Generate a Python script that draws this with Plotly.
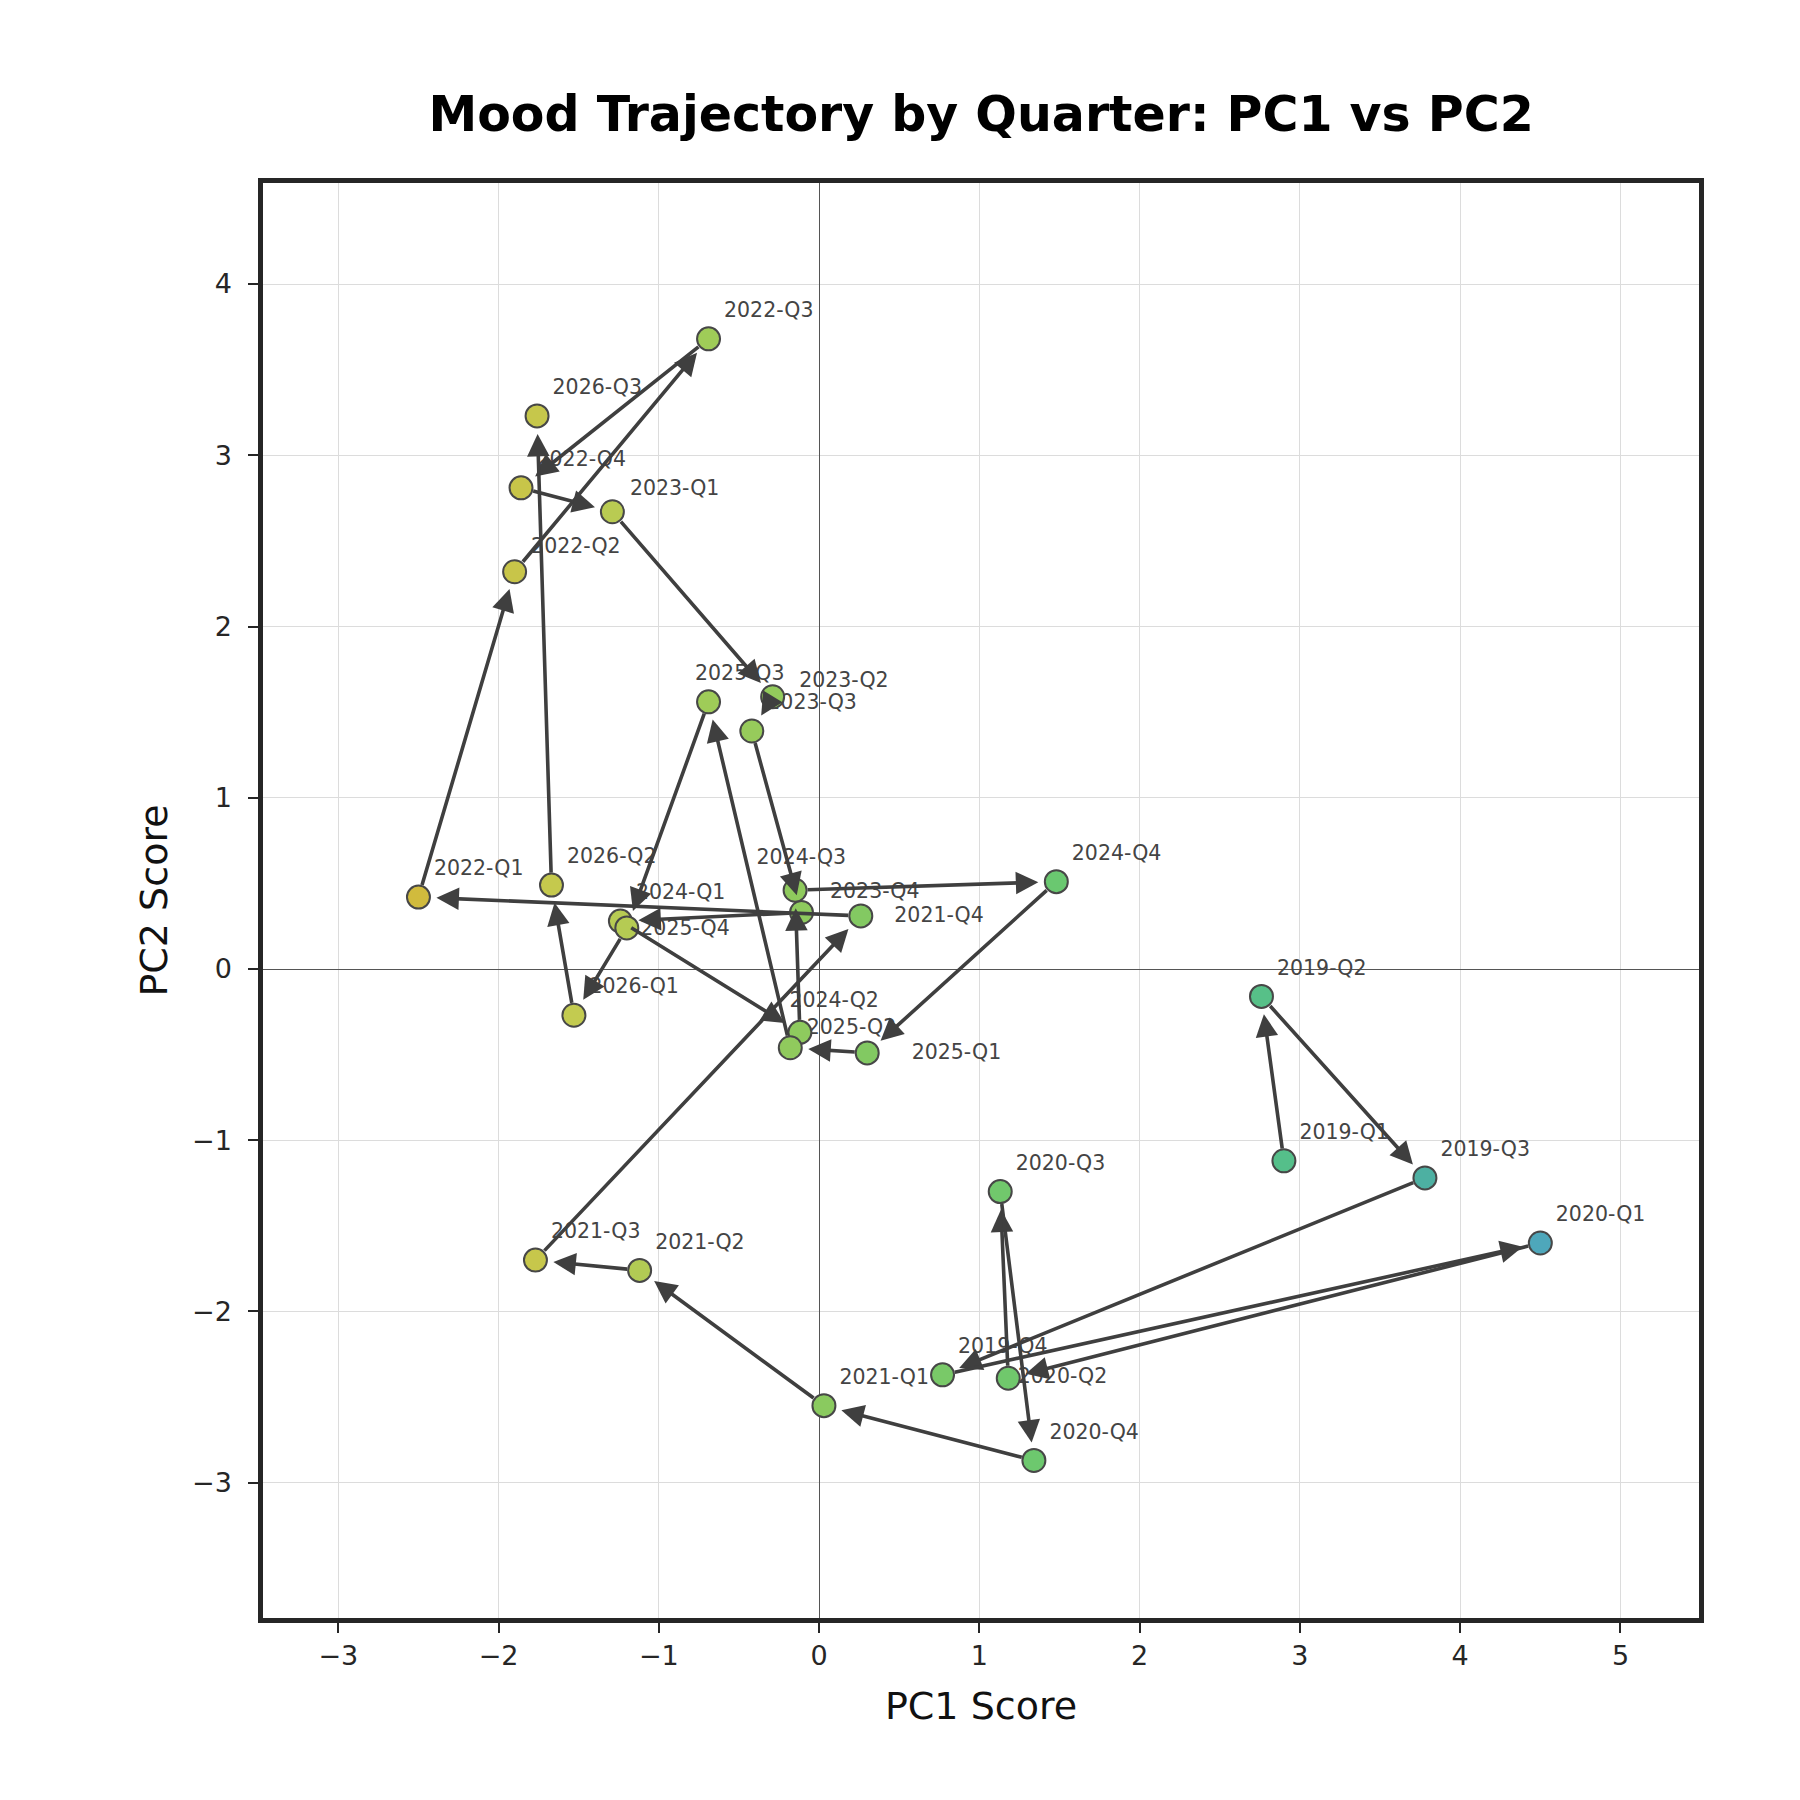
import plotly.graph_objects as go

# quarter labels and PCA scores
quarters = ['2019-Q1', '2019-Q2', '2019-Q3', '2019-Q4',
            '2020-Q1', '2020-Q2', '2020-Q3', '2020-Q4',
            '2021-Q1', '2021-Q2', '2021-Q3', '2021-Q4',
            '2022-Q1', '2022-Q2', '2022-Q3', '2022-Q4',
            '2023-Q1', '2023-Q2', '2023-Q3', '2023-Q4',
            '2024-Q1', '2024-Q2', '2024-Q3', '2024-Q4',
            '2025-Q1', '2025-Q2', '2025-Q3', '2025-Q4',
            '2026-Q1', '2026-Q2', '2026-Q3']
pc1 = [2.90, 2.76, 3.78, 0.77,
       4.50, 1.18, 1.13, 1.34,
       0.03, -1.12, -1.77, 0.26,
       -2.50, -1.90, -0.69, -1.86,
       -1.29, -0.29, -0.42, -0.11,
       -1.24, -0.12, -0.15, 1.48,
       0.30, -0.18, -0.69, -1.20,
       -1.53, -1.67, -1.76]
pc2 = [-1.12, -0.16, -1.22, -2.37,
       -1.60, -2.39, -1.30, -2.87,
       -2.55, -1.76, -1.70, 0.31,
       0.42, 2.32, 3.68, 2.81,
       2.67, 1.59, 1.39, 0.33,
       0.28, -0.37, 0.46, 0.51,
       -0.49, -0.46, 1.56, 0.24,
       -0.27, 0.49, 3.23]

# colour ramp (low PC1 -> ochre, high PC1 -> blue)
ramp = [[0.0, '#d1bb3d'], [0.14, '#c3cb50'], [0.26, '#9fcc58'],
        [0.40, '#82c962'], [0.57, '#6ac870'], [0.77, '#55bf8a'],
        [0.90, '#4db0a3'], [1.0, '#4ea7bb']]

# label nudges in pixels (right, up); anything not listed uses the default
default_nudge = (14, 29)
nudges = {'2020-Q2': (8, 2), '2021-Q4': (32, 1), '2022-Q2': (15, 26),
          '2023-Q1': (16, 24), '2023-Q2': (25, 17), '2023-Q4': (27, 22),
          '2024-Q2': (-12, 32), '2024-Q3': (-40, 33), '2025-Q1': (43, 1),
          '2025-Q2': (15, 21), '2025-Q3': (-15, 29), '2025-Q4': (12, 0)}

W, H = 1800, 1800
margin = dict(l=255, r=109, t=175, b=190)
xrange = [-3.47, 5.49]
yrange = [-3.79, 4.59]
px_x = (W - margin['l'] - margin['r']) / (xrange[1] - xrange[0])
px_y = (H - margin['t'] - margin['b']) / (yrange[1] - yrange[0])

lab_x, lab_y = [], []
for q, x, y in zip(quarters, pc1, pc2):
    dx, dy = nudges.get(q, default_nudge)
    lab_x.append(x + (dx + 1.5) / px_x)
    lab_y.append(y + (dy - 2) / px_y)

fig = go.Figure()

# labels sit under the markers, as in the original
fig.add_trace(go.Scatter(
    x=lab_x, y=lab_y, mode='text', text=quarters,
    textposition='middle right',
    textfont=dict(size=20.5, color='#444444'),
    hoverinfo='skip', showlegend=False))

fig.add_trace(go.Scatter(
    x=pc1, y=pc2, mode='markers',
    marker=dict(size=23, color=pc1, colorscale=ramp,
                cmin=min(pc1), cmax=max(pc1),
                line=dict(color='#474747', width=2)),
    hovertext=quarters, showlegend=False))

# arrows from each quarter to the next
for i in range(len(quarters) - 1):
    fig.add_annotation(x=pc1[i + 1], y=pc2[i + 1],
                       ax=pc1[i], ay=pc2[i],
                       xref='x', yref='y', axref='x', ayref='y',
                       text='', showarrow=True,
                       arrowhead=2, arrowsize=1.25, arrowwidth=3.6,
                       arrowcolor='#3f3f3f',
                       standoff=18, startstandoff=11)

axis_style = dict(
    showgrid=True, gridcolor='#dcdcdc', gridwidth=1.3,
    zeroline=True, zerolinecolor='#555555', zerolinewidth=1.2,
    showline=True, linecolor='#262626', linewidth=4.5, mirror=True,
    ticks='outside', ticklen=10, tickwidth=1.8, tickcolor='#262626',
    tickfont=dict(size=27, color='#262626'), dtick=1,
)

fig.update_xaxes(range=xrange, tick0=0,
                 title=dict(text='PC1 Score', font=dict(size=38, color='#111111'),
                            standoff=24),
                 **axis_style)
fig.update_yaxes(range=yrange, tick0=0, ticklabelstandoff=11,
                 title=dict(text='PC2 Score', font=dict(size=38, color='#111111'),
                            standoff=14),
                 **axis_style)

fig.update_layout(
    width=W, height=H,
    margin=margin,
    plot_bgcolor='white', paper_bgcolor='white',
    font=dict(family='DejaVu Sans', color='#262626'),
    title=dict(text='<b>Mood Trajectory by Quarter: PC1 vs PC2</b>',
               x=0.5406, xanchor='center', y=1 - 106 / 1800, yanchor='middle',
               yref='container', font=dict(size=49, color='#000000')),
)

fig.write_html("out.html")
